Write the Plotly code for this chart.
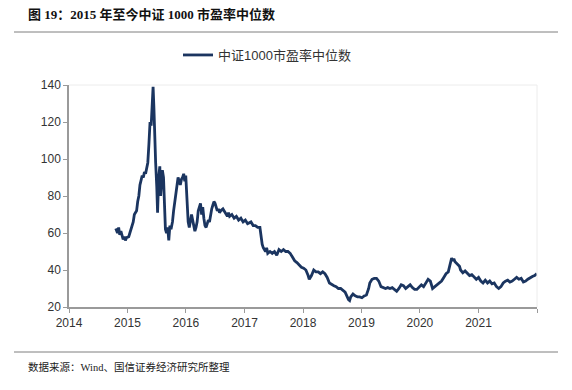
import plotly.graph_objects as go

dates = [
"2014-10-20","2014-10-31","2014-11-07","2014-11-14","2014-11-21","2014-11-28","2014-12-05","2014-12-12","2014-12-19","2014-12-26",
"2015-01-09","2015-01-16","2015-01-23","2015-01-30","2015-02-06","2015-02-13","2015-02-27","2015-03-06","2015-03-13","2015-03-20",
"2015-03-27","2015-04-03","2015-04-10","2015-04-17","2015-04-24","2015-05-01","2015-05-08","2015-05-15","2015-05-22","2015-05-29",
"2015-06-05","2015-06-10","2015-06-15","2015-06-19","2015-06-26","2015-07-03","2015-07-08","2015-07-15","2015-07-22","2015-07-27",
"2015-07-31","2015-08-07","2015-08-14","2015-08-19","2015-08-26","2015-09-02","2015-09-09","2015-09-16","2015-09-23","2015-09-30",
"2015-10-09","2015-10-16","2015-10-23","2015-10-30","2015-11-06","2015-11-13","2015-11-20","2015-11-27","2015-12-04","2015-12-11",
"2015-12-18","2015-12-25","2015-12-31","2016-01-08","2016-01-15","2016-01-22","2016-01-29","2016-02-05","2016-02-19","2016-02-26",
"2016-03-04","2016-03-11","2016-03-18","2016-03-25","2016-04-01","2016-04-08","2016-04-15","2016-04-22","2016-04-29","2016-05-06",
"2016-05-13","2016-05-20","2016-05-27","2016-06-03","2016-06-10","2016-06-17","2016-06-24","2016-07-01","2016-07-08","2016-07-15",
"2016-07-22","2016-07-29","2016-08-05","2016-08-19","2016-08-26","2016-09-02","2016-09-16","2016-09-23","2016-09-30","2016-10-14",
"2016-10-28","2016-11-11","2016-11-25","2016-12-09","2016-12-23","2017-01-06","2017-01-20","2017-02-10","2017-02-24","2017-03-10",
"2017-03-24","2017-04-07","2017-04-14","2017-04-21","2017-04-28","2017-05-12","2017-05-19","2017-05-26","2017-06-09","2017-06-23",
"2017-07-07","2017-07-21","2017-08-04","2017-08-18","2017-09-01","2017-09-15","2017-09-29","2017-10-13","2017-10-27","2017-11-10",
"2017-11-24","2017-12-08","2017-12-22","2018-01-05","2018-01-19","2018-02-02","2018-02-09","2018-02-23","2018-03-09","2018-03-23",
"2018-04-06","2018-04-20","2018-05-04","2018-05-18","2018-06-01","2018-06-15","2018-06-29","2018-07-13","2018-07-27","2018-08-10",
"2018-08-24","2018-09-07","2018-09-21","2018-10-12","2018-10-19","2018-10-26","2018-11-09","2018-11-23","2018-12-07","2018-12-21",
"2019-01-04","2019-01-18","2019-02-01","2019-02-15","2019-02-22","2019-03-08","2019-03-22","2019-04-05","2019-04-19","2019-05-03",
"2019-05-17","2019-05-31","2019-06-14","2019-06-28","2019-07-12","2019-07-26","2019-08-09","2019-08-23","2019-09-06","2019-09-20",
"2019-10-04","2019-10-18","2019-11-01","2019-11-15","2019-11-29","2019-12-13","2019-12-27","2020-01-10","2020-01-24","2020-02-07",
"2020-02-21","2020-03-06","2020-03-20","2020-04-03","2020-04-17","2020-05-01","2020-05-15","2020-05-29","2020-06-12","2020-06-26",
"2020-07-03","2020-07-10","2020-07-17","2020-07-24","2020-07-31","2020-08-07","2020-08-21","2020-09-04","2020-09-11","2020-09-25",
"2020-10-09","2020-10-23","2020-11-06","2020-11-20","2020-12-04","2020-12-18","2021-01-01","2021-01-15","2021-01-29","2021-02-12",
"2021-02-26","2021-03-12","2021-03-26","2021-04-09","2021-04-23","2021-05-07","2021-05-21","2021-06-04","2021-06-18","2021-07-02",
"2021-07-16","2021-07-30","2021-08-13","2021-08-27","2021-09-10","2021-09-24","2021-10-08","2021-10-22","2021-11-05","2021-11-19",
"2021-12-03","2021-12-17","2021-12-31",
]

pe_median = [
62.5,60,63,59,61,58,56.5,58,56,57.5,
58,60,62,63,66,70,72,77,80,86,
88,91,90,93,92,96,98,108,120,118,
130,139,128,110,98,85,71,90,96,80,
86,94,90,78,62,60,63,56,64,62,
66,72,77,80,84,90,88,86,89,90,
92,88,91,72,66,63,68,70,64,61,
63,66,72,74,76,70,74,68,64,63,
65,67,66,70,73,75,77,76,74,72,
73,71,72,73,72,71,69,71,69,70,
68,69,67,68,66,67,65,66,64,64,
63,63,58,54,52,50,52,49,50,49,
50,48,51,50,51,50,50,49,47,45,
44,42.5,41.5,41,40,37,35,37,40,39,
39,38,39,38,36,33,32,31.5,31,30,
30,29,28,24,23.5,25.5,27,26,25.5,25.5,
25,26,26.5,30,33,35,35.5,35.5,34,31,
30.5,30,30.5,30,30.5,29.5,28.5,30,32,31.5,
30,31,32,30.5,29.5,29.5,31,32,31,33,
35,34,30,31,32,33,34,36,38,39,
42,45,46.5,45,46,44.5,43,42,40,38.5,
39.5,38,37,37.5,36,35,36,34,33,34.5,
33,34,32.5,33,31,30,31,33,34,34.5,
33.5,34,35,36,35,35.5,33.5,34,35,36,
36.5,37,38,
]

series_name = "中证1000市盈率中位数"
year_ticks = ["2014-01-01","2015-01-01","2016-01-01","2017-01-01","2018-01-01",
              "2019-01-01","2020-01-01","2021-01-01","2022-01-01"]
year_labels = ["2014","2015","2016","2017","2018","2019","2020","2021",""]
y_ticks = [20, 40, 60, 80, 100, 120, 140]

title_text = "图 19：2015 年至今中证 1000 市盈率中位数"
source_text = "数据来源：Wind、国信证券经济研究所整理"

fig = go.Figure()
fig.add_trace(go.Scatter(
    x=dates, y=pe_median, mode="lines", name=series_name,
    line=dict(color="#1b3560", width=2.8),
))

L, R, T, B = 69, 537, 85, 307
W, H = R - L, B - T
def px(x): return (x - L) / W
def py(y): return (B - y) / H

fig.update_layout(
    width=572, height=390,
    margin=dict(l=L, r=572 - R, t=T, b=390 - B),
    paper_bgcolor="white", plot_bgcolor="white",
    showlegend=True,
    legend=dict(orientation="h", x=px(267), y=py(55), xanchor="center", yanchor="middle",
                font=dict(family="Liberation Sans, Noto Sans CJK SC", size=13, color="#333333"),
                bgcolor="rgba(0,0,0,0)", itemwidth=30),
    font=dict(family="Liberation Sans, Noto Sans CJK SC", size=12, color="#333333"),
)
fig.update_xaxes(
    type="date", range=["2014-01-01", "2022-01-01"],
    tickmode="array", tickvals=year_ticks, ticktext=year_labels,
    showgrid=False, zeroline=False, automargin=False,
    showline=True, linecolor="#9a9a9a", linewidth=1.5,
    ticks="outside", ticklen=4, tickcolor="#9a9a9a",
    tickfont=dict(size=12, color="#333333"),
)
fig.update_yaxes(
    range=[20, 140], tickmode="array", tickvals=y_ticks,
    showgrid=False, zeroline=False, automargin=False,
    showline=True, linecolor="#9a9a9a", linewidth=1.5,
    ticks="outside", ticklen=4, tickcolor="#9a9a9a",
    tickfont=dict(size=12, color="#333333"),
)

# faint top/right border of plot area
fig.add_shape(type="line", xref="paper", yref="paper", x0=0, x1=1, y0=1, y1=1,
              line=dict(color="#ececec", width=1))
fig.add_shape(type="line", xref="paper", yref="paper", x0=1, x1=1, y0=0, y1=1,
              line=dict(color="#ececec", width=1))
# rules above and below the figure
fig.add_shape(type="line", xref="paper", yref="paper", x0=px(14), x1=px(558), y0=py(32), y1=py(32),
              line=dict(color="#7f7f7f", width=1))
fig.add_shape(type="line", xref="paper", yref="paper", x0=px(14), x1=px(558), y0=py(352), y1=py(352),
              line=dict(color="#7f7f7f", width=1))

fig.add_annotation(text="<b>" + title_text + "</b>", xref="paper", yref="paper",
                   x=px(26), y=py(15), xanchor="left", yanchor="middle", showarrow=False,
                   font=dict(family="Liberation Serif, Noto Sans CJK SC", size=13, color="#111111"))
fig.add_annotation(text=source_text, xref="paper", yref="paper",
                   x=px(26), y=py(367), xanchor="left", yanchor="middle", showarrow=False,
                   font=dict(family="Liberation Serif, Noto Sans CJK SC", size=10.5, color="#222222"))

fig.write_html("out.html", config={"displayModeBar": False},
               post_script="document.body.style.margin='0';document.body.style.overflow='hidden';")
